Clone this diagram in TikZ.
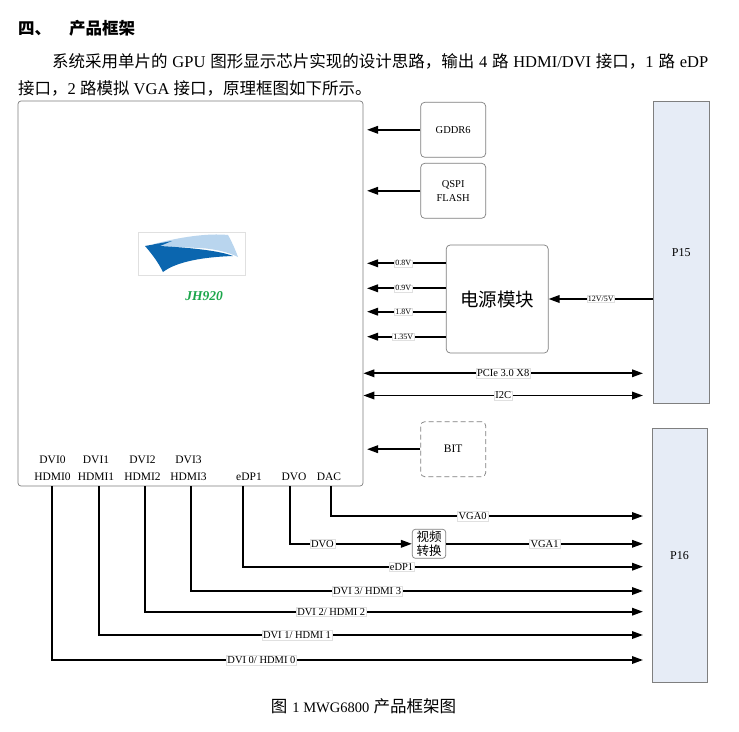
\documentclass[tikz,border=0pt]{standalone}
\usepackage{fontspec}
\setmainfont{Liberation Serif}
\newfontfamily\zh{Noto Sans CJK SC}
\usetikzlibrary{arrows.meta}
\definecolor{boxline}{HTML}{7F7F7F}
\definecolor{pinfill}{HTML}{E6ECF6}
\definecolor{logolight}{HTML}{B9D5EE}
\definecolor{logodark}{HTML}{0B66AF}
\definecolor{jhgreen}{HTML}{1AA64A}
\tikzset{
  txt/.style={inner sep=0pt, font=\fontsize{16.5}{16.5}\selectfont},
  blk/.style={draw=boxline, line width=0.7pt, rounded corners=4pt, inner sep=0pt},
  pinbox/.style={draw=boxline, fill=pinfill, line width=0.7pt, inner sep=0pt, font=\fontsize{12}{12}\selectfont},
  tag/.style={font=\fontsize{10.5}{14}\selectfont, align=center},
  port/.style={inner sep=0pt, font=\fontsize{11.5}{17}\selectfont, align=center},
  arr/.style={line width=1.8pt, -{Triangle[length=11pt,width=7.5pt]}},
  darr/.style={line width=1.8pt, {Triangle[length=11pt,width=7.5pt]}-{Triangle[length=11pt,width=7.5pt]}},
  lbl/.style={fill=white, draw=black!12, line width=0.4pt, inner sep=1.2pt, font=\fontsize{10.5}{10.5}\selectfont},
  vlbl/.style={lbl, inner sep=0.8pt, font=\fontsize{8}{8}\selectfont},
}

\begin{document}
\begin{tikzpicture}[x=1pt, y=-1pt]
  \fill[white] (0,0) rectangle (739,731);
  \useasboundingbox (0,0) rectangle (739,731);

  % heading and text
  \node[txt, anchor=west, font=\zh\bfseries\fontsize{16.5}{16.5}\selectfont] (title) at (18,28) {四、\hspace{18pt}产品框架};
  \node[txt, anchor=west] (line1) at (52,61.5) {\makebox[656pt][s]{{\zh 系统采用单片的} GPU {\zh 图形显示芯片实现的设计思路，输出} 4 {\zh 路} HDMI/DVI {\zh 接口，}1 {\zh 路} eDP}};
  \node[txt, anchor=west] (line2) at (18,88) {{\zh 接口，}2 {\zh 路模拟} VGA {\zh 接口，原理框图如下所示。}};

  % chip
  \node[blk, rounded corners=3pt, minimum width=345pt, minimum height=385pt] (gpu) at (190.5,293.5) {};
  \node[draw=black!12, fill=white, line width=0.4pt, minimum width=107pt, minimum height=43pt, inner sep=0pt] (logo) at (191.5,253.5) {};
  \fill[logolight] (154,244) .. controls (180,237) and (208,233) .. (228,235)
    .. controls (232,242) and (235,249) .. (238,257)
    .. controls (228,252) and (215,249) .. (200,248) -- (154,246) -- cycle;
  \fill[logodark] (145,246) -- (172,241) -- (160,246)
    .. controls (195,248) and (220,251) .. (233,256)
    .. controls (202,257) and (176,262) .. (163,272)
    .. controls (158,262) and (152,254) .. (145,246) -- cycle;
  \node[font=\bfseries\itshape\fontsize{13.5}{13.5}\selectfont, text=jhgreen] (chip) at (204,296) {JH920};

  % blocks on the right
  \node[blk, tag, minimum width=65pt, minimum height=55pt] (gddr) at (453.2,129.8) {GDDR6};
  \node[blk, tag, minimum width=65pt, minimum height=55pt] (qspi) at (453.2,190.8) {QSPI\\FLASH};
  \node[blk, minimum width=102pt, minimum height=108pt, font=\zh\fontsize{18.5}{18.5}\selectfont] (power) at (497.2,299) {电源模块};
  \node[blk, tag, dashed, dash pattern=on 5pt off 3pt, minimum width=65pt, minimum height=55pt, font=\fontsize{11.5}{11.5}\selectfont] (bit) at (453.2,449.2) {BIT};
  \node[pinbox, minimum width=56pt, minimum height=302pt] (p15) at (681.3,252.5) {P15};
  \node[pinbox, minimum width=55pt, minimum height=254pt] (p16) at (679.5,555.5) {P16};
  \node[blk, rounded corners=3pt, minimum width=33.4pt, minimum height=29pt, align=center, font=\zh\fontsize{12.5}{13.5}\selectfont] (conv) at (429,543.8) {视频\\转换};

  \coordinate (gin) at (367,0);
  \coordinate (tipx) at (643,0);

  \draw[arr] (gddr.west) -- (gddr.west -| gin);
  \draw[arr] (qspi.west) -- (qspi.west -| gin);
  \draw[arr] (bit.west) -- (bit.west -| gin);
  \foreach \y/\v in {263.3/0.8V, 288.3/0.9V, 311.7/1.8V, 336.7/1.35V}
    \draw[arr] (power.west |- 0,\y) -- (gin |- 0,\y) node[vlbl, pos=0.54] {\v};
  \draw[arr] (p15.west |- power.east) -- (power.east) node[vlbl, midway] {12V/5V};
  \draw[darr] (gpu.east |- 0,373.3) -- (tipx |- 0,373.3) node[lbl, midway] {PCIe 3.0 X8};
  \draw[darr] (gpu.east |- 0,395.5) -- (tipx |- 0,395.5) node[lbl, midway] {I2C};

  % outputs
  \node[port] (edp) at (249,476.5) {eDP1};
  \node[port] (dvo) at (294,476.5) {DVO};
  \node[port] (dac) at (329,476.5) {DAC};
  \draw[arr] (331,0 |- gpu.south) |- (tipx |- 0,516) node[lbl, pos=0.727] {VGA0};
  \draw[arr] (290,0 |- gpu.south) |- (conv.west) node[lbl, pos=0.633] {DVO};
  \draw[arr] (conv.east) -- (tipx |- conv.east) node[lbl, midway] {VGA1};
  \draw[arr] (243.3,0 |- gpu.south) |- (tipx |- 0,566.7) node[lbl, pos=0.698] {eDP1};
  \foreach \i/\lx/\x/\y/\p in {0/52.5/52.3/660/0.677, 1/96/99/635/0.682, 2/142.5/145/611.7/0.687, 3/188.5/190.7/591/0.695} {
    \node[port] (dvi\i) at (\lx,468.5) {DVI\i\\HDMI\i};
    \draw[arr] (\x,0 |- gpu.south) |- (tipx |- 0,\y) node[lbl, pos=\p] {DVI \i/ HDMI \i};
  }

  % caption
  \node[txt] (caption) at (363.5,706) {{\zh 图}\hspace{5pt}{\fontsize{14.5}{14.5}\selectfont 1 MWG6800} {\zh 产品框架图}};
\end{tikzpicture}
\end{document}
